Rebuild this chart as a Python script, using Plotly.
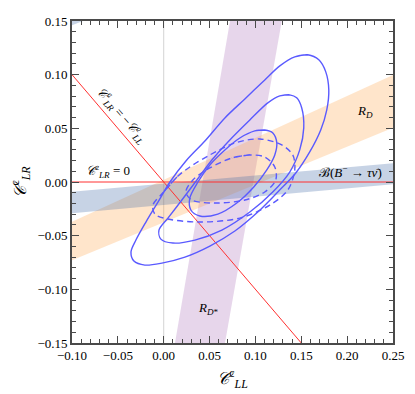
import plotly.graph_objects as go

# ---- data ----
# bands: polygons (x, y) in C_LL, C_LR
band_btaunu_x = [-0.10, 0.25, 0.25, -0.10]
band_btaunu_y = [-0.009, 0.0174, -0.002, -0.029]
band_btaunu2_x = [-0.10, -0.088, -0.10]
band_btaunu2_y = [0.150, 0.150, 0.146]
band_RD_x = [-0.10, 0.25, 0.25, -0.10]
band_RD_y = [-0.037, 0.0997, 0.0506, -0.073]
band_RDs_x = [0.0123, 0.0723, 0.1287, 0.0668]
band_RDs_y = [-0.15, 0.15, 0.15, -0.15]

# contours (solid: three levels, dashed: two levels)
c1_x = [0.1571, 0.1429, 0.1266, 0.1102, 0.0885, 0.0667, 0.0449, 0.0242, 0.0068, -0.0063, -0.0194, -0.0303,
        -0.0357, -0.0325, -0.0205, -0.0020, 0.0231, 0.0503, 0.0776, 0.1026, 0.1244, 0.1440, 0.1592, 0.1712,
        0.1778, 0.1800, 0.1767, 0.1691]
c1_y = [0.1185, 0.1166, 0.1082, 0.0951, 0.0774, 0.0597, 0.0382, 0.0196, 0.0, -0.0187, -0.0373, -0.0541,
        -0.0653, -0.0737, -0.0774, -0.0756, -0.0700, -0.0597, -0.0457, -0.0280, -0.0093, 0.0084, 0.0280,
        0.0485, 0.0672, 0.0858, 0.1026, 0.1138]
c2_x = [0.1374, 0.1266, 0.1135, 0.0939, 0.0721, 0.0525, 0.0362, 0.0198, 0.0046, -0.0052, -0.0031, 0.0100,
        0.0340, 0.0634, 0.0939, 0.1189, 0.1374, 0.1483, 0.1527, 0.1505, 0.1450]
c2_y = [0.0812, 0.0802, 0.0737, 0.0578, 0.0392, 0.0205, 0.0019, -0.0168, -0.0336, -0.0448, -0.0532, -0.0569,
        -0.0541, -0.0448, -0.0280, -0.0093, 0.0093, 0.0299, 0.0504, 0.0690, 0.0784]
c3_x = [0.1102, 0.0993, 0.0830, 0.0667, 0.0503, 0.0373, 0.0285, 0.0296, 0.0394, 0.0590, 0.0797, 0.0982,
        0.1124, 0.1211, 0.1233, 0.1190]
c3_y = [0.0485, 0.0476, 0.0410, 0.0299, 0.0159, 0.0, -0.0149, -0.0261, -0.0317, -0.0299, -0.0196, -0.0047,
        0.0112, 0.0252, 0.0364, 0.0457]
d1_x = [0.0144, 0.0000, -0.0118, -0.0096, 0.0046, 0.0394, 0.0830, 0.1157, 0.1353, 0.1429, 0.1407, 0.1287,
        0.1048, 0.0776, 0.0503, 0.0285]
d1_y = [0.0047, -0.0093, -0.0215, -0.0299, -0.0345, -0.0373, -0.0336, -0.0215, -0.0075, 0.0112, 0.0252,
        0.0345, 0.0401, 0.0364, 0.0252, 0.0140]
d2_x = [0.0939, 0.0743, 0.0503, 0.0318, 0.0242, 0.0307, 0.0558, 0.0885, 0.1102, 0.1222, 0.1211, 0.1102]
d2_y = [0.0252, 0.0224, 0.0131, 0.0019, -0.0093, -0.0168, -0.0196, -0.0168, -0.0093, 0.0019, 0.0140,
        0.0233]

# reference lines
zero_line_x = [-0.10, 0.25]
zero_line_y = [0.0, 0.0]
diag_line_x = [-0.10, 0.15]
diag_line_y = [0.10, -0.15]
vert_line_x = [0.0, 0.0]
vert_line_y = [-0.15, 0.15]

x_range = [-0.10, 0.25]
y_range = [-0.15, 0.15]

# ---- figure ----
fig = go.Figure()

fig.add_trace(go.Scatter(x=vert_line_x, y=vert_line_y, mode="lines",
                         line=dict(color="rgba(200,200,200,0.8)", width=1)))


def band(x, y, color):
    fig.add_trace(go.Scatter(x=x + [x[0]], y=y + [y[0]], mode="lines", fill="toself",
                             fillcolor=color, line=dict(width=0), hoverinfo="skip"))


band(band_RDs_x, band_RDs_y, "rgba(160,90,175,0.25)")
band(band_RD_x, band_RD_y, "rgba(255,160,70,0.28)")
band(band_btaunu_x, band_btaunu_y, "rgba(70,110,170,0.30)")
band(band_btaunu2_x, band_btaunu2_y, "rgba(70,110,170,0.30)")

fig.add_trace(go.Scatter(x=zero_line_x, y=zero_line_y, mode="lines",
                         line=dict(color="#ff3030", width=1)))
fig.add_trace(go.Scatter(x=diag_line_x, y=diag_line_y, mode="lines",
                         line=dict(color="#ff3030", width=1)))


def contour(x, y, dash):
    fig.add_trace(go.Scatter(x=x + x[:2], y=y + y[:2], mode="lines",
                             line=dict(color="#5a5aff", width=1.4, dash=dash, shape="spline",
                                       smoothing=0.9)))


for cx, cy in [(c1_x, c1_y), (c2_x, c2_y), (c3_x, c3_y)]:
    contour(cx, cy, "solid")
for cx, cy in [(d1_x, d1_y), (d2_x, d2_y)]:
    contour(cx, cy, "6px,4px")

serif = "Liberation Serif"
ann_font = dict(family=serif, size=13, color="black")
annotations = [
    dict(x=-0.0455, y=0.0625, text="<i>𝒞</i><sup>c</sup><sub><i>LR</i></sub> = −<i>𝒞</i><sup>c</sup><sub><i>LL</i></sub>",
         textangle=49.5, showarrow=False, font=ann_font),
    dict(x=-0.0608, y=0.0105, text="<i>𝒞</i><sup>c</sup><sub><i>LR</i></sub> = 0", showarrow=False, font=ann_font),
    dict(x=0.219, y=0.066, text="<i>R</i><sub><i>D</i></sub>", showarrow=False, font=ann_font),
    dict(x=0.204, y=0.0093, text="ℬ(<i>B</i><sup>−</sup> → <i>τν̄</i>)", showarrow=False, font=ann_font),
    dict(x=0.0483, y=-0.118, text="<i>R</i><sub><i>D</i>*</sub>", showarrow=False, font=ann_font),
]

axis_common = dict(
    showgrid=False, zeroline=False, showline=True, linecolor="#4a4a4a", linewidth=1.6,
    mirror="allticks", ticks="inside", ticklen=7, tickwidth=1.2, tickcolor="#4a4a4a",
    tickformat=".2f", dtick=0.05, automargin=False,
    tickfont=dict(family=serif, size=13, color="black"),
    minor=dict(dtick=0.01, ticks="inside", ticklen=4, tickwidth=1, tickcolor="#4a4a4a"),
)

title_font = dict(family=serif, size=17, color="black")

# the page body adds an 8 px offset, so the figure is 8 px smaller on each side
fig.update_layout(
    width=407, height=386,
    margin=dict(l=64, r=22, t=13, b=51),
    paper_bgcolor="white", plot_bgcolor="white",
    showlegend=False,
    annotations=annotations,
    xaxis=dict(range=x_range, tick0=-0.10,
               title=dict(text="<i>𝒞</i><sup>c</sup><sub><i>LL</i></sub>", font=title_font, standoff=10),
               **axis_common),
    yaxis=dict(range=y_range, tick0=-0.15,
               title=dict(text="<i>𝒞</i><sup>c</sup><sub><i>LR</i></sub>", font=title_font, standoff=13),
               **axis_common),
)

fig.write_html("out.html")
